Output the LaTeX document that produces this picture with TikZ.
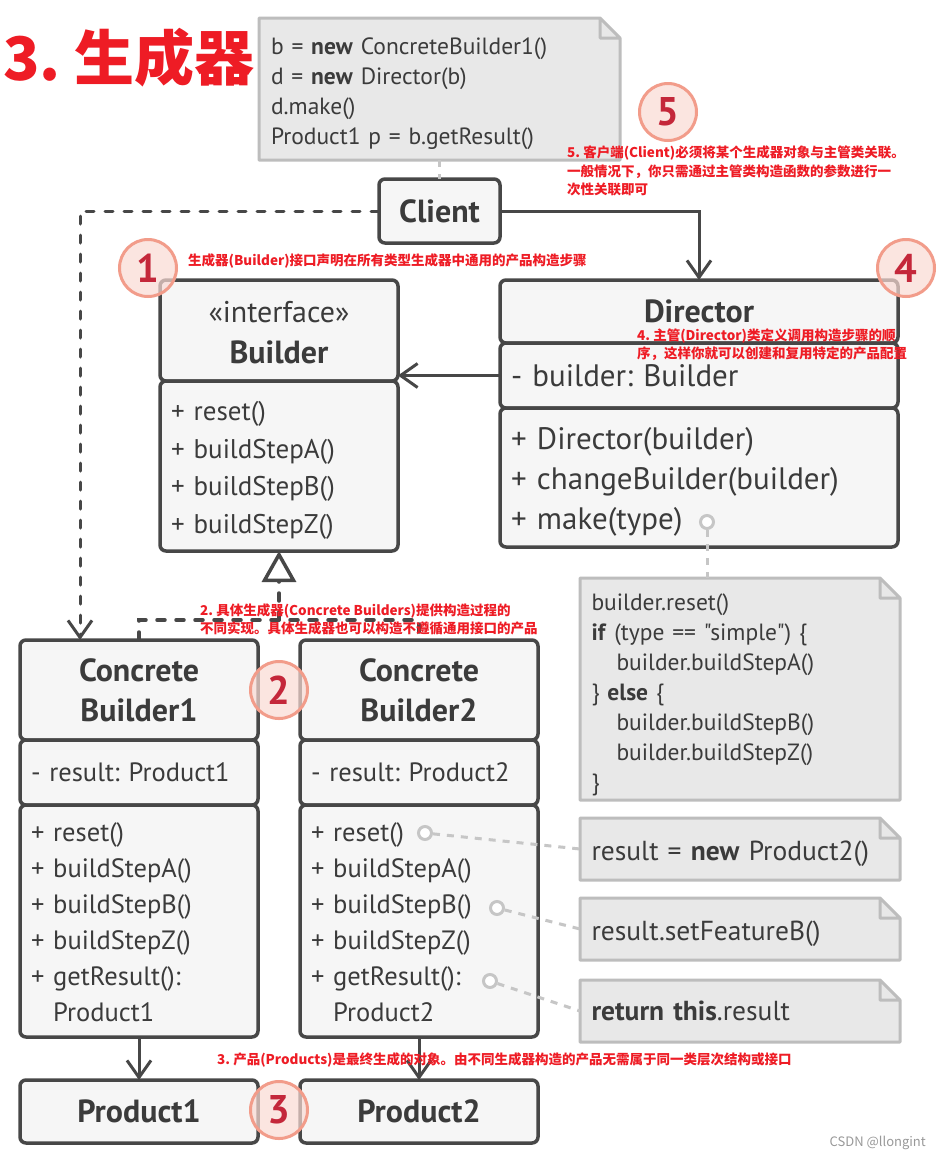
\documentclass[tikz,border=0pt]{standalone}
\usepackage{fontspec}
\defaultfontfeatures[\rmfamily]{}
\setmainfont{PT Sans}
\newfontfamily\cjk{Noto Sans CJK SC}
\usetikzlibrary{positioning,arrows.meta}
\definecolor{umlline}{HTML}{474747}
\definecolor{umlfill}{HTML}{F6F6F6}
\definecolor{umltext}{HTML}{3B3B3B}
\definecolor{notefill}{HTML}{E8E8E8}
\definecolor{noteedge}{HTML}{BDBDBD}
\definecolor{hookgrey}{HTML}{C6C6C6}
\definecolor{remarkred}{HTML}{EE1C25}
\definecolor{badgering}{HTML}{F29C8A}
\definecolor{badgefill}{HTML}{FADAD4}
\definecolor{badgetext}{HTML}{C4273A}
\newcommand{\fsz}[2]{\fontsize{#1}{#2}\selectfont}
\newcommand{\lift}[1]{\rule{0pt}{\dimexpr\fontcharht\font`\(+#1\relax}}
\frenchspacing
\tikzset{
    part/.style={draw=umlline, fill=umlfill, line width=3.5pt, rounded corners=6pt, outer sep=0pt, inner sep=0pt, text=umltext},
    head/.style={part, align=center, font=\bfseries\fsz{32}{40}},
    ops/.style={part, align=left, inner xsep=11pt, font=\fsz{26.5}{36}},
    codenote/.style={fill=notefill, outer sep=0pt, inner xsep=12pt, inner ysep=0pt, anchor=north west, align=left, text=umltext, font=\fsz{23.5}{30}},
    hook/.style={circle, draw=hookgrey, fill=white, line width=3pt, minimum size=13pt, inner sep=0pt},
    noteline/.style={draw=hookgrey, line width=3pt, dash pattern=on 7pt off 7pt},
    link/.style={draw=umlline, line width=3pt, -{Straight Barb[length=17pt, width=24pt]}},
    dashlink/.style={link, line cap=round, dash pattern=on 8pt off 11pt},
    dashline/.style={draw=umlline, line width=3.5pt, line cap=round, dash pattern=on 8pt off 11pt},
    badge/.style={circle, draw=badgering, line width=3pt, fill=badgefill, fill opacity=0.7, text opacity=1, text=badgetext, minimum size=57pt, inner sep=0pt, font=\bfseries\fsz{40}{40}},
    remark/.style={anchor=west, inner sep=0pt, align=left, text=remarkred, font=\cjk\bfseries\fsz{13.5}{18.5}}
}

\begin{document}
\begin{tikzpicture}[x=1pt, y=-1pt, node distance=0pt]
    \path[use as bounding box, fill=white] (0,0) rectangle (940,1160);
    \node[anchor=west, inner sep=0pt, text=remarkred, font=\cjk\bfseries\fsz{60}{60}] (title) at (3,58) {3. 生成器};
    % client and its note
    \node[codenote, minimum width=361pt, minimum height=142pt, text width=337pt] (cnote) at (259,18) {\lift{9pt}b = \textbf{new} ConcreteBuilder1()\\d = \textbf{new} Director(b)\\d.make()\\Product1 p = b.getResult()};
    \node[head, minimum width=121pt, minimum height=64pt, anchor=north west] (client) at (379,179) {Client};
    % builder interface
    \node[head, font=\fsz{30}{41}, minimum width=238pt, minimum height=101pt, anchor=north west] (bldhead) at (160,280) {\lift{5pt}«interface»\\\textbf{\fsz{32}{41}Builder}};
    \node[ops, minimum width=238pt, minimum height=170pt, text width=216pt, font=\fsz{27}{37.7}, below=of bldhead] (bldops) {\lift{9pt}+ reset()\\+ buildStepA()\\+ buildStepB()\\+ buildStepZ()};
    % director
    \node[head, minimum width=398pt, minimum height=63pt, anchor=north west] (dirhead) at (500,280) {Director};
    \node[ops, font=\fsz{31}{40}, minimum width=398pt, minimum height=65pt, text width=376pt, below=of dirhead] (dirattr) {- builder: Builder};
    \node[ops, font=\fsz{31}{40}, minimum width=398pt, minimum height=139pt, text width=376pt, below=of dirattr] (dirops) {\lift{9pt}+ Director(builder)\\+ changeBuilder(builder)\\+ make(type)};
    \node[codenote, minimum width=320pt, minimum height=222pt, text width=297pt, inner xsep=11pt] (dnote) at (580,578) {\lift{11pt}builder.reset()\\\textbf{if} (type == "simple") \{\\\hspace*{25pt}builder.buildStepA()\\\} \textbf{else} \{\\\hspace*{25pt}builder.buildStepB()\\\hspace*{25pt}builder.buildStepZ()\\\}};
    % concrete builders
    \node[head, minimum width=238pt, minimum height=100pt, anchor=north west] (cb1head) at (20,640) {Concrete\\Builder1};
    \node[ops, minimum width=238pt, minimum height=65pt, text width=216pt, below=of cb1head] (cb1attr) {- result: Product1};
    \node[ops, minimum width=238pt, minimum height=232pt, text width=216pt, below=of cb1attr] (cb1ops) {\lift{3pt}+ reset()\\+ buildStepA()\\+ buildStepB()\\+ buildStepZ()\\+ getResult():\\\phantom{+ }Product1};
    \node[head, minimum width=238pt, minimum height=100pt, right=42pt of cb1head] (cb2head) {Concrete\\Builder2};
    \node[ops, minimum width=238pt, minimum height=65pt, text width=216pt, below=of cb2head] (cb2attr) {- result: Product2};
    \node[ops, minimum width=238pt, minimum height=232pt, text width=216pt, below=of cb2attr] (cb2ops) {\lift{3pt}+ reset()\\+ buildStepA()\\+ buildStepB()\\+ buildStepZ()\\+ getResult():\\\phantom{+ }Product2};
    \node[head, minimum width=238pt, minimum height=63pt, below=43pt of cb1ops] (prod1) {Product1};
    \node[head, minimum width=238pt, minimum height=63pt, below=43pt of cb2ops] (prod2) {Product2};
    % notes on concrete builder 2
    \node[codenote, font=\fsz{27.5}{30}, minimum width=320pt, minimum height=62pt, text width=297pt, inner xsep=11pt] (rnote) at (580,818) {\lift{9pt}result = \textbf{new} Product2()};
    \node[codenote, font=\fsz{27.5}{30}, minimum width=320pt, minimum height=62pt, text width=297pt, inner xsep=11pt] (fnote) at (580,898) {\lift{9pt}result.setFeatureB()};
    \node[codenote, font=\fsz{27.5}{30}, minimum width=320pt, minimum height=62pt, text width=297pt, inner xsep=11pt] (tnote) at (580,980) {\textbf{return this}.result};
    \foreach \n in {cnote,dnote,rnote,fnote,tnote} {
        \fill[white] ([xshift=-20pt]\n.north east) -- ([xshift=3pt,yshift=3pt]\n.north east) -- ([yshift=-20pt]\n.north east) -- cycle;
        \draw[noteedge, line width=3pt, line join=round] ([xshift=-20pt]\n.north east) -- (\n.north west) -- (\n.south west) -- (\n.south east) -- ([yshift=-20pt]\n.north east) -- cycle ([xshift=-20pt]\n.north east) |- ([yshift=-20pt]\n.north east);
    }
    % connectors
    \draw[noteline] (cnote) -- (client);
    \draw[dashlink] (client.west) -| ([xshift=60pt]cb1head.north west);
    \draw[link] (client.east) -| (dirhead.north);
    \draw[link] (dirattr.west) -- (dirattr.west -| bldops.east);
    \coordinate[below=69pt of bldops.south] (fork);
    \draw[dashline] (cb1head.north) |- (fork) -| (cb2head.north);
    \draw[dashline, -{Triangle[length=31pt, width=34pt, fill=white]}] (fork) -- (bldops.south);
    \draw[link] (cb1ops) -- (prod1);
    \draw[link] (cb2ops) -- (prod2);
    \node[hook] (hk0) at (707,522) {};
    \node[hook] (hk1) at (425,833) {};
    \node[hook] (hk2) at (497,908) {};
    \node[hook] (hk3) at (490,981) {};
    \draw[noteline] (hk0) -- (hk0 |- dnote.north);
    \draw[noteline] (hk1) -- (rnote.west);
    \draw[noteline] (hk2) -- (fnote.west);
    \draw[noteline] (hk3) -- (tnote.west);
    % numbered badges and remarks
    \node[badge] (b1) at (148,268) {1};
    \node[badge] (b2) at (279,690) {2};
    \node[badge] (b3) at (279,1110) {3};
    \node[badge] (b4) at (906,268) {4};
    \node[badge] (b5) at (668,112) {5};
    \node[remark] (r1) at (188,261) {生成器(Builder)接口声明在所有类型生成器中通用的产品构造步骤};
    \node[remark] (r2) at (200,619.5) {2. 具体生成器(Concrete Builders)提供构造过程的\\不同实现。具体生成器也可以构造不遵循通用接口的产品};
    \node[remark] (r3) at (217,1060) {3. 产品(Products)是最终生成的对象。由不同生成器构造的产品无需属于同一类层次结构或接口};
    \node[remark] (r4) at (637,344.5) {4. 主管(Director)类定义调用构造步骤的顺\\序，这样你就可以创建和复用特定的产品配置};
    \node[remark] (r5) at (567,171) {5. 客户端(Client)必须将某个生成器对象与主管类关联。\\一般情况下，你只需通过主管类构造函数的参数进行一\\次性关联即可};
    \node[anchor=east, inner sep=0pt, text=black!40, font=\cjk\fsz{13}{13}] (mark) at (926,1143) {CSDN @llongint};
\end{tikzpicture}
\end{document}
